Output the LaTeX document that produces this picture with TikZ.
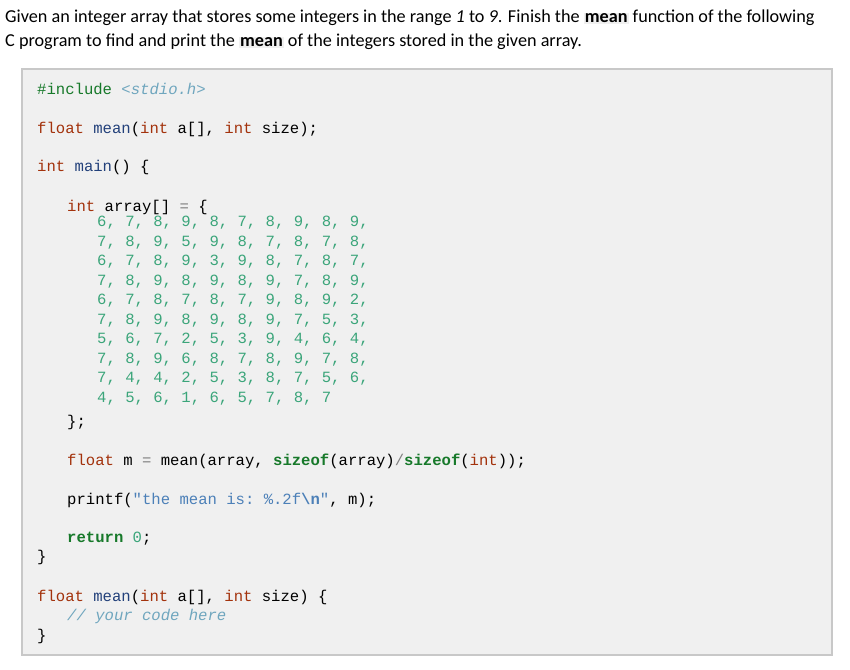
\documentclass[tikz,border=0pt]{standalone}
\usepackage{fontspec}
\setmainfont{Carlito}
\setmonofont{Liberation Mono}
\definecolor{kw}{HTML}{A3320C}
\definecolor{fn}{HTML}{22407A}
\definecolor{num}{HTML}{3BA57A}
\definecolor{kg}{HTML}{17792A}
\definecolor{str}{HTML}{4C80B8}
\definecolor{cmt}{HTML}{6FA6BE}
\definecolor{boxbg}{HTML}{F0F0F0}
\definecolor{boxln}{HTML}{C8C8C8}
\newcommand{\K}[1]{\textcolor{kw}{#1}}
\newcommand{\F}[1]{\textcolor{fn}{#1}}
\newcommand{\N}[1]{\textcolor{num}{#1}}
\newcommand{\G}[1]{\textcolor{kg}{\bfseries #1}}
\newcommand{\Sx}[1]{\textcolor{str}{#1}}
\newcommand{\MB}{{\setlength{\fboxsep}{1pt}\colorbox{boxbg}{\bfseries mean}}}
\begin{document}
\begin{tikzpicture}[x=1pt,y=-1pt,
  txt/.style={anchor=base west,inner sep=0pt,font=\fontsize{18.2}{22}\selectfont},
  code/.style={anchor=base west,inner sep=0pt,font=\fontsize{15.6}{20}\ttfamily,text=black}]
\useasboundingbox (0,0) rectangle (850,669);
\node[txt] (h1) at (5,23) {Given an integer array that stores some integers in the range \textit{1} to \textit{9}. Finish the \MB{} function of the following};
\node[txt] (h2) at (5,47) {C program to find and print the \MB{} of the integers stored in the given array.};
\draw[boxln,line width=2pt,fill=boxbg] (22,69) rectangle (832,655);
\node[code] (l1) at (37,94) {\G{\mdseries\#include} \textcolor{cmt}{\itshape<stdio.h>}};
\node[code] (l2) at (37,133) {\K{float} \F{mean}(\K{int} a[], \K{int} size);};
\node[code] (l3) at (37,171) {\K{int} \F{main}() \{};
\node[code] (l4) at (67,211) {\K{int} array[] \textcolor{gray}{=} \{};
\foreach \r [count=\i] in {
 {6, 7, 8, 9, 8, 7, 8, 9, 8, 9,},
 {7, 8, 9, 5, 9, 8, 7, 8, 7, 8,},
 {6, 7, 8, 9, 3, 9, 8, 7, 8, 7,},
 {7, 8, 9, 8, 9, 8, 9, 7, 8, 9,},
 {6, 7, 8, 7, 8, 7, 9, 8, 9, 2,},
 {7, 8, 9, 8, 9, 8, 9, 7, 5, 3,},
 {5, 6, 7, 2, 5, 3, 9, 4, 6, 4,},
 {7, 8, 9, 6, 8, 7, 8, 9, 7, 8,},
 {7, 4, 4, 2, 5, 3, 8, 7, 5, 6,},
 {4, 5, 6, 1, 6, 5, 7, 8, 7}}
 \node[code,text=num] (r\i) at (97,207+19.5*\i) {\r};
\node[code] (l5) at (67,426) {\};};
\node[code] (l6) at (67,465) {\K{float} m \textcolor{gray}{=} mean(array, \G{sizeof}(array)\textcolor{gray}{/}\G{sizeof}(\K{int}));};
\node[code] (l7) at (67,504) {printf(\Sx{"the mean is: \%.2f{\bfseries\textbackslash n}"}, m);};
\node[code] (l8) at (67,542) {\G{return} \N{0};};
\node[code] (l9) at (37,561) {\}};
\node[code] (l10) at (37,601) {\K{float} \F{mean}(\K{int} a[], \K{int} size) \{};
\node[code] (l11) at (67,620) {\textcolor{cmt}{\itshape// your code here}};
\node[code] (l12) at (37,640) {\}};
\end{tikzpicture}
\end{document}
